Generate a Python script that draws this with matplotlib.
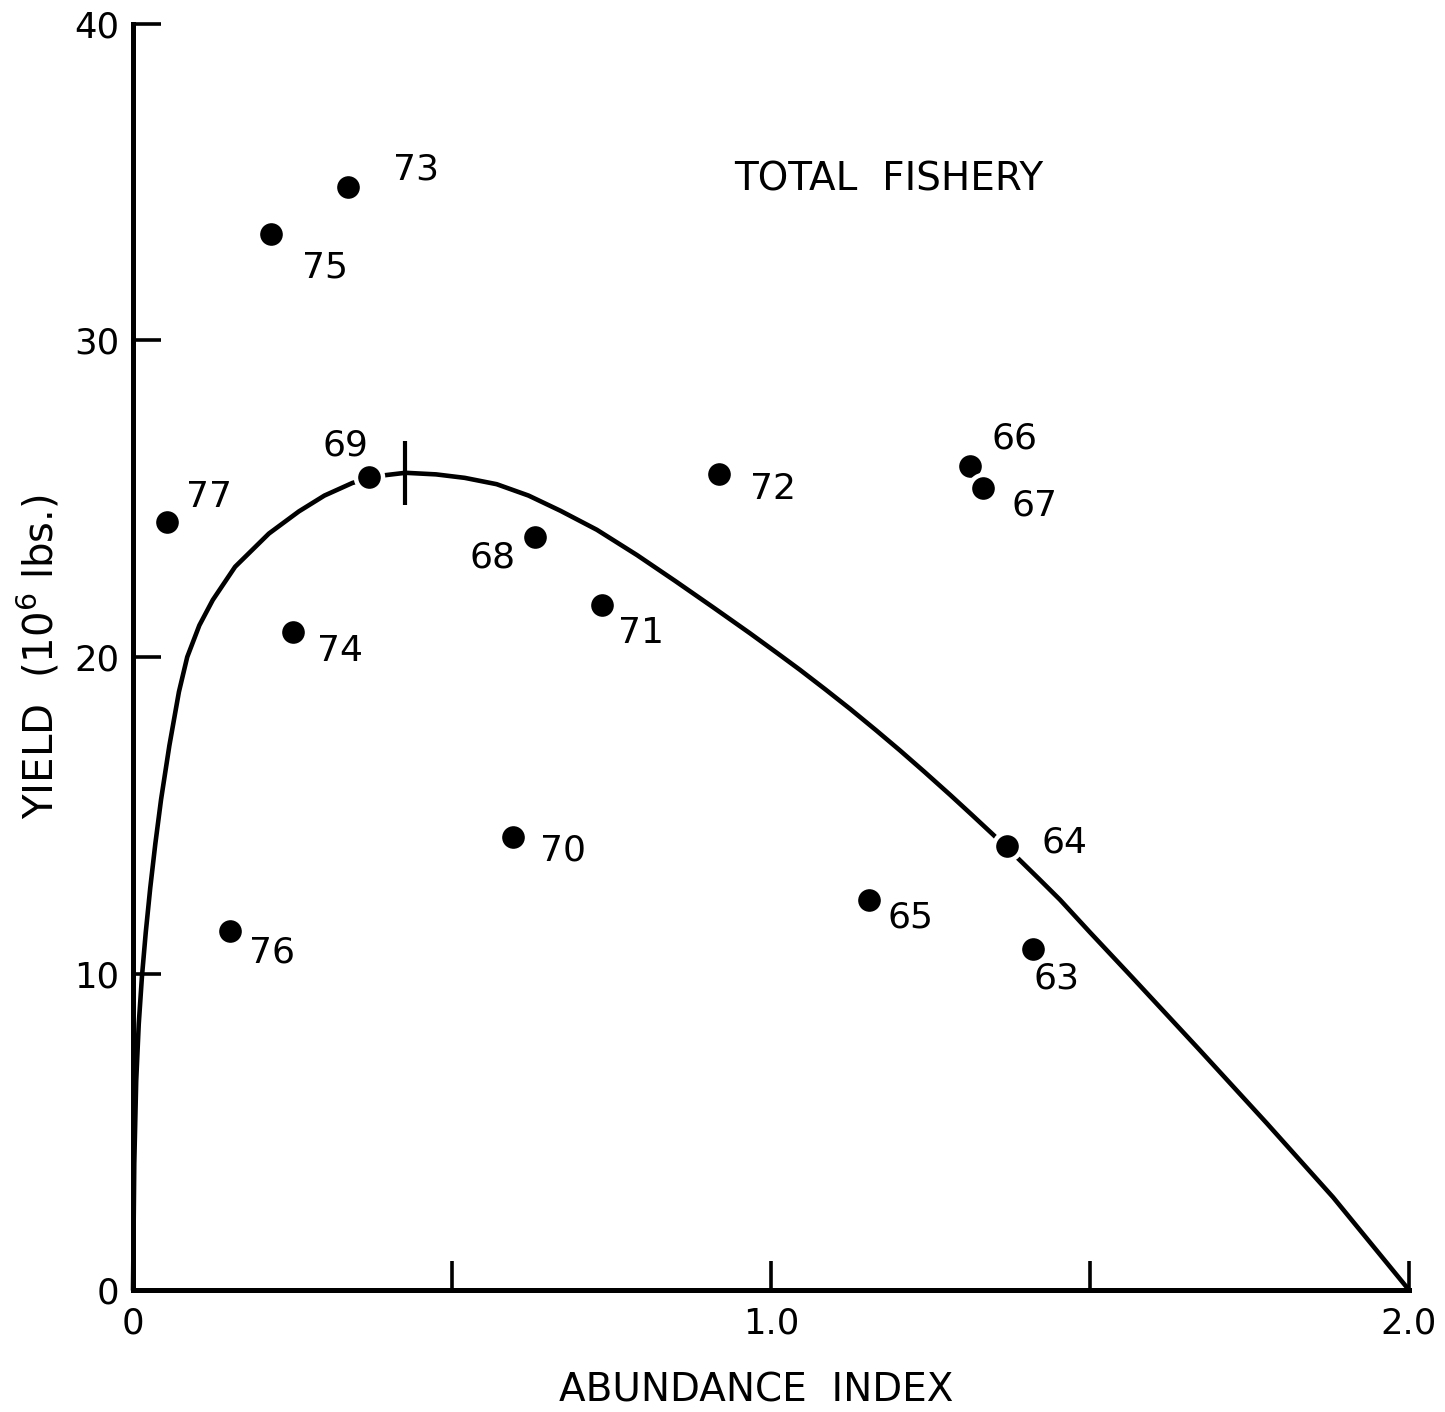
import matplotlib
matplotlib.use("Agg")
import matplotlib.pyplot as plt

# ---------------- data ----------------
years = ["73", "75", "69", "77", "74", "68", "71", "72", "66", "67",
         "70", "76", "65", "64", "63"]
abundance = [0.337, 0.216, 0.370, 0.054, 0.251, 0.630, 0.735, 0.919, 1.312, 1.332,
             0.596, 0.152, 1.153, 1.370, 1.410]
yield_mlbs = [34.85, 33.37, 25.68, 24.27, 20.78, 23.78, 21.64, 25.77, 26.03, 25.34,
              14.31, 11.35, 12.32, 14.04, 10.76]

# fitted production curve
curve_abundance = [0.000, 0.002, 0.005, 0.009, 0.014, 0.020, 0.027, 0.035, 0.044,
                   0.057, 0.072, 0.085, 0.104, 0.125, 0.160, 0.213, 0.260, 0.300,
                   0.344, 0.385, 0.427, 0.475, 0.520, 0.570, 0.620, 0.670, 0.727,
                   0.790, 0.850, 0.910, 0.967, 1.010, 1.045, 1.085, 1.124, 1.165,
                   1.202, 1.240, 1.281, 1.315, 1.348, 1.386, 1.420, 1.453, 1.500,
                   1.567, 1.672, 1.777, 1.881, 2.000]
curve_yield = [0.0, 4.0, 6.6, 8.4, 9.9, 11.3, 12.7, 14.1, 15.5,
               17.2, 18.9, 20.0, 21.0, 21.8, 22.85, 23.9, 24.6, 25.1,
               25.5, 25.72, 25.82, 25.77, 25.66, 25.46, 25.10, 24.62, 24.02,
               23.22, 22.40, 21.56, 20.75, 20.12, 19.60, 18.98, 18.36, 17.68,
               17.05, 16.38, 15.64, 15.01, 14.39, 13.66, 12.99, 12.33, 11.30,
               9.86, 7.58, 5.27, 2.93, 0.0]

msy_abundance = [0.427]
msy_yield = [25.82]

x_ticks = [0, 0.5, 1.0, 1.5, 2.0]
x_tick_labels = ["0", "", "1.0", "", "2.0"]
y_ticks = [0, 10, 20, 30, 40]
y_tick_labels = ["0", "10", "20", "30", "40"]

title_text = "TOTAL  FISHERY"
x_label = "ABUNDANCE  INDEX"
y_label = "YIELD  (10$^6$ lbs.)"

# ---------------- styling ----------------
label_offsets_px = {
    "73": (68, 17), "75": (54, -34), "69": (-24, 32), "77": (42, 25),
    "74": (47, -19), "68": (-42, -20), "71": (39, -28), "72": (54, -15),
    "66": (44, 28), "67": (52, -18), "70": (50, -13), "76": (42, -22),
    "65": (42, -17), "64": (57, 3), "63": (24, -29),
}

W, H, DPI = 1445, 1412, 100
fig = plt.figure(figsize=(W / DPI, H / DPI), dpi=DPI)
fig.patch.set_facecolor("white")
ax = fig.add_axes([133 / W, 1 - 1290 / H, (1409 - 133) / W, (1290 - 24) / H])
ax.set_xlim(0, 2.0)
ax.set_ylim(0, 40)

for s in ("top", "right"):
    ax.spines[s].set_visible(False)
for s in ("left", "bottom"):
    ax.spines[s].set_linewidth(3.6)
    ax.spines[s].set_color("black")
    ax.spines[s].set_capstyle("projecting")

# fitted curve
ax.plot(curve_abundance, curve_yield, color="black", lw=3.3, zorder=2,
        solid_capstyle="round", solid_joinstyle="round", clip_on=False)

# MSY cross mark
ax.plot(msy_abundance, msy_yield, marker="|", markersize=46, markeredgewidth=3.0,
        color="black", linestyle="none", zorder=2)

# data points
ax.plot(abundance, yield_mlbs, linestyle="none", marker="o", markersize=19.5,
        markerfacecolor="black", markeredgecolor="white", markeredgewidth=3.2,
        zorder=3)

for yr, xv, yv in zip(years, abundance, yield_mlbs):
    dx, dy = label_offsets_px[yr]
    ax.annotate(yr, (xv, yv), xytext=(dx, dy), textcoords="offset pixels",
                ha="center", va="center", fontsize=26, color="black")

ax.set_xticks(x_ticks)
ax.set_xticklabels(x_tick_labels)
ax.set_yticks(y_ticks)
ax.set_yticklabels(y_tick_labels)
ax.tick_params(axis="x", direction="in", length=21, width=2.6, pad=12,
               labelsize=25.5, colors="black")
ax.tick_params(axis="y", direction="in", length=20, width=2.6, pad=10,
               labelsize=25.5, colors="black")

ax.text(0.592, 0.877, title_text, transform=ax.transAxes, ha="center", va="center",
        fontsize=28)

fig.text(756 / W, 1 - 1390 / H, x_label, ha="center", va="center", fontsize=28)
fig.text(39 / W, 1 - 657 / H, y_label, ha="center", va="center", rotation=90,
         fontsize=29)

fig.savefig("out.png", dpi=DPI, facecolor="white")
